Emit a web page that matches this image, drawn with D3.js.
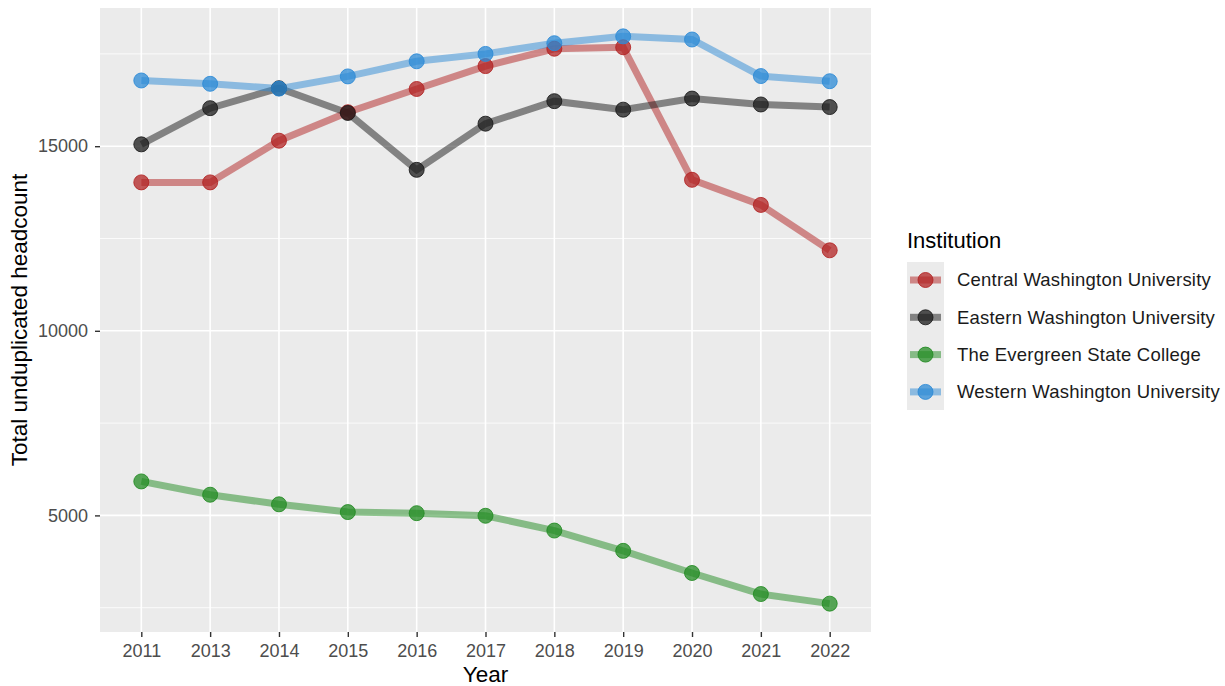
<!DOCTYPE html>
<html>
  <head>
    <meta charset="utf-8">
    <title>Headcount by institution</title>
    <script src="https://d3js.org/d3.v7.min.js"></script>
    <style>
      body { margin: 0; background: #fff; }
      svg text { font-family: "Liberation Sans", Arial, sans-serif; }
    </style>
  </head>
  <body>
    <div id="chart"></div>
    <script>
      // data
      var years = ["2011", "2013", "2014", "2015", "2016", "2017", "2018", "2019", "2020", "2021", "2022"];
      var institutions = ["Central Washington University", "Eastern Washington University",
                          "The Evergreen State College", "Western Washington University"];
      var central  = [14020, 14020, 15150, 15920, 16550, 17170, 17640, 17680, 14090, 13410, 12180];
      var eastern  = [15050, 16030, 16570, 15900, 14360, 15610, 16220, 15990, 16290, 16130, 16060];
      var evergreen = [5920, 5560, 5300, 5090, 5060, 4990, 4590, 4040, 3440, 2870, 2610];
      var western  = [16780, 16690, 16560, 16890, 17300, 17500, 17790, 17975, 17890, 16900, 16760];
      var colours = ["#b22222", "#1a1a1a", "#228b22", "#2b8ad6"];
      var yTicks = [5000, 10000, 15000];
      var yMinor = [2500, 7500, 12500, 17500];

      var seriesValues = [central, eastern, evergreen, western];
      var series = institutions.map(function(name, i) {
        return {name: name, colour: colours[i],
                values: seriesValues[i].map(function(v, j) { return {year: years[j], value: v}; })};
      });

      var W = 1225, H = 686;
      var panel = {left: 100, right: 871, top: 8, bottom: 632};

      var svg = d3.select("#chart").append("svg")
        .attr("width", W).attr("height", H);

      var x = d3.scalePoint()
        .domain(years)
        .range([panel.left, panel.right])
        .padding(0.6);

      var all = [].concat(central, eastern, evergreen, western);
      var lo = d3.min(all), hi = d3.max(all), pad = (hi - lo) * 0.05;
      var y = d3.scaleLinear()
        .domain([lo - pad, hi + pad])
        .range([panel.bottom, panel.top]);

      // panel background and grid
      svg.append("rect")
        .attr("x", panel.left).attr("y", panel.top)
        .attr("width", panel.right - panel.left)
        .attr("height", panel.bottom - panel.top)
        .attr("fill", "#ebebeb");

      svg.append("g").selectAll("line").data(yMinor).enter().append("line")
        .attr("x1", panel.left).attr("x2", panel.right)
        .attr("y1", function(d) { return y(d); }).attr("y2", function(d) { return y(d); })
        .attr("stroke", "#fff").attr("stroke-width", 0.8);

      svg.append("g").selectAll("line").data(yTicks).enter().append("line")
        .attr("x1", panel.left).attr("x2", panel.right)
        .attr("y1", function(d) { return y(d); }).attr("y2", function(d) { return y(d); })
        .attr("stroke", "#fff").attr("stroke-width", 1.6);

      svg.append("g").selectAll("line").data(years).enter().append("line")
        .attr("y1", panel.top).attr("y2", panel.bottom)
        .attr("x1", function(d) { return x(d); }).attr("x2", function(d) { return x(d); })
        .attr("stroke", "#fff").attr("stroke-width", 1.6);

      // axes
      var xAxis = svg.append("g")
        .attr("transform", "translate(0," + panel.bottom + ")")
        .call(d3.axisBottom(x).tickSizeOuter(0).tickSize(5).tickPadding(7));
      var yAxis = svg.append("g")
        .attr("transform", "translate(" + panel.left + ",0)")
        .call(d3.axisLeft(y).tickValues(yTicks).tickFormat(d3.format("d")).tickSizeOuter(0).tickSize(5).tickPadding(7));
      [xAxis, yAxis].forEach(function(a) {
        a.select(".domain").remove();
        a.selectAll(".tick line").attr("stroke", "#333").attr("stroke-width", 1.4);
        a.selectAll(".tick text").attr("fill", "#4d4d4d").style("font-size", "18px");
      });

      // lines then points
      var line = d3.line()
        .x(function(d) { return x(d.year); })
        .y(function(d) { return y(d.value); });

      svg.append("g").selectAll("path").data(series).enter().append("path")
        .attr("d", function(d) { return line(d.values); })
        .attr("fill", "none")
        .attr("stroke", function(d) { return d.colour; })
        .attr("stroke-opacity", 0.5)
        .attr("stroke-width", 7);

      series.forEach(function(s) {
        svg.append("g").selectAll("circle").data(s.values).enter().append("circle")
          .attr("cx", function(d) { return x(d.year); })
          .attr("cy", function(d) { return y(d.value); })
          .attr("r", 7.5)
          .attr("fill", s.colour)
          .attr("fill-opacity", 0.75)
          .attr("stroke", s.colour)
          .attr("stroke-opacity", 0.85)
          .attr("stroke-width", 1);
      });

      // axis titles
      svg.append("text")
        .attr("x", (panel.left + panel.right) / 2)
        .attr("y", 682)
        .attr("text-anchor", "middle")
        .style("font-size", "22.5px")
        .text("Year");
      svg.append("text")
        .attr("transform", "translate(27," + ((panel.top + panel.bottom) / 2) + ") rotate(-90)")
        .attr("text-anchor", "middle")
        .style("font-size", "22.5px")
        .text("Total unduplicated headcount");

      // legend
      var legend = svg.append("g").attr("transform", "translate(907,0)");
      legend.append("text")
        .attr("x", 0).attr("y", 248)
        .style("font-size", "22px")
        .text("Institution");
      legend.append("rect")
        .attr("x", 0).attr("y", 262)
        .attr("width", 37).attr("height", 148)
        .attr("fill", "#ebebeb");
      var keys = legend.selectAll("g.key").data(series).enter().append("g")
        .attr("class", "key")
        .attr("transform", function(d, i) { return "translate(0," + (280 + i * 37.3) + ")"; });
      keys.append("line")
        .attr("x1", 3).attr("x2", 34)
        .attr("stroke", function(d) { return d.colour; })
        .attr("stroke-opacity", 0.5)
        .attr("stroke-width", 7);
      keys.append("circle")
        .attr("cx", 18.5).attr("r", 7.5)
        .attr("fill", function(d) { return d.colour; })
        .attr("fill-opacity", 0.75)
        .attr("stroke", function(d) { return d.colour; })
        .attr("stroke-opacity", 0.85);
      keys.append("text")
        .attr("x", 50).attr("dy", "0.35em")
        .style("font-size", "18.5px")
        .style("letter-spacing", "0.2px")
        .attr("fill", "#1a1a1a")
        .text(function(d) { return d.name; });
    </script>
  </body>
</html>
